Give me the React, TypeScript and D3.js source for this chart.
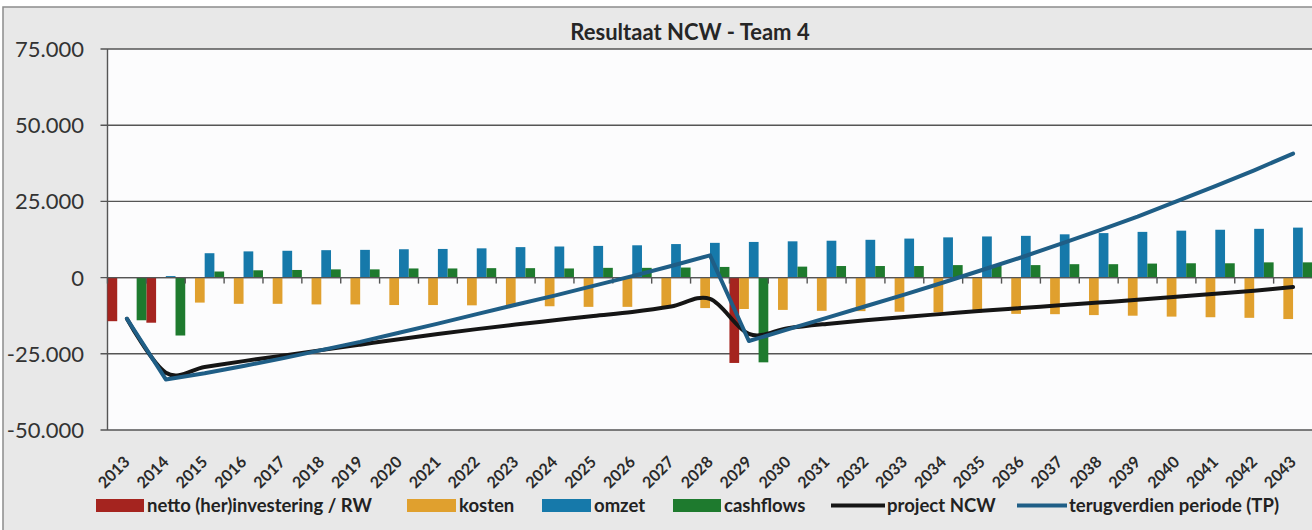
import * as d3 from "d3";

const years = [
  "2013", "2014", "2015", "2016", "2017", "2018", "2019", "2020", "2021", "2022", "2023",
  "2024", "2025", "2026", "2027", "2028", "2029", "2030", "2031", "2032", "2033", "2034",
  "2035", "2036", "2037", "2038", "2039", "2040", "2041", "2042", "2043",
];

// bar series
const netto = [
  -14300, -14800, 0, 0, 0, 0, 0, 0, 0, 0, 0, 0, 0, 0, 0, 0,
  -28000, 0, 0, 0, 0, 0, 0, 0, 0, 0, 0, 0, 0, 0, 0,
];
const kosten = [
  0, 0, -8200, -8600, -8600, -8800, -8800, -9000, -9000, -9100, -9100, -9400, -9600, -9600,
  -9700, -10000, -10300, -10600, -10900, -11000, -11200, -11400, -11500, -11900, -12000,
  -12300, -12500, -12800, -13000, -13200, -13600,
];
const omzet = [
  0, 500, 8000, 8600, 8800, 9000, 9100, 9300, 9400, 9600, 10000, 10200, 10400, 10600, 11000,
  11400, 11700, 11900, 12100, 12400, 12800, 13200, 13500, 13700, 14200, 14600, 15000, 15400,
  15700, 16000, 16400,
];
const cashflows = [
  -14000, -19000, 2000, 2400, 2500, 2700, 2700, 3000, 3000, 3100, 3100, 3000, 3200, 3200, 3300,
  3500, -27800, 3600, 3800, 3800, 3800, 4100, 4100, 4100, 4400, 4400, 4600, 4700, 4700, 5000,
  5000,
];

// line series
const projectNCW = [
  -13500, -31200, -29300, -27400, -25600, -23800, -22000, -20200, -18500, -16900, -15400,
  -14000, -12600, -11300, -9500, -7000, -18500, -16600, -15200, -14000, -12900, -11900,
  -10900, -10000, -9100, -8200, -7300, -6300, -5300, -4300, -3100,
];
const terugverdien = [
  -13500, -33400, -31400, -29000, -26500, -23800, -21100, -18100, -15100, -12000, -8900,
  -5900, -2700, 500, 3800, 7300, -20800, -17000, -13200, -9400, -5600, -1600, 2500, 6600,
  11000, 15400, 20000, 25000, 30000, 35200, 40700,
];

const yTicks = [75000, 50000, 25000, 0, -25000, -50000];

const barSeries = [
  { name: "netto (her)investering / RW", values: netto, color: "#a5241f" },
  { name: "kosten", values: kosten, color: "#e0a02e" },
  { name: "omzet", values: omzet, color: "#1679aa" },
  { name: "cashflows", values: cashflows, color: "#1e7a2e" },
];
const lineSeries = [
  { name: "project NCW", values: projectNCW, color: "#151515", smooth: true },
  { name: "terugverdien periode (TP)", values: terugverdien, color: "#1f5e86", smooth: false },
];

const W = 1312;
const H = 530;
const plot = { left: 107.5, right: 1312.5, top: 49, bottom: 430 };
const font = "Lato, 'Open Sans', sans-serif";

const nl = d3.formatLocale({
  decimal: ",",
  thousands: ".",
  grouping: [3],
  currency: ["€", ""],
  minus: "-",
});
const fmt = nl.format(",d");

export default function App() {
  const x = d3.scaleBand<string>().domain(years).range([plot.left, plot.right]).padding(0);
  const xs = d3
    .scaleBand<string>()
    .domain(barSeries.map((s) => s.name))
    .range([0, x.bandwidth()])
    .padding(0);
  const y = d3.scaleLinear().domain([-50000, 75000]).range([plot.bottom, plot.top]);
  const cx = (i: number) => (x(years[i]) as number) + x.bandwidth() / 2;

  const lineFor = (smooth: boolean) =>
    d3
      .line<number>()
      .x((_, i) => cx(i))
      .y((v) => y(v))
      .curve(smooth ? d3.curveCardinal.tension(0) : d3.curveLinear);

  const legendItems = [
    { name: barSeries[0].name, color: barSeries[0].color, kind: "bar", sx: 96, tx: 147 },
    { name: barSeries[1].name, color: barSeries[1].color, kind: "bar", sx: 407, tx: 459 },
    { name: barSeries[2].name, color: barSeries[2].color, kind: "bar", sx: 542, tx: 594 },
    { name: barSeries[3].name, color: barSeries[3].color, kind: "bar", sx: 673, tx: 724 },
    { name: lineSeries[0].name, color: lineSeries[0].color, kind: "line", sx: 831, tx: 887 },
    { name: lineSeries[1].name, color: lineSeries[1].color, kind: "line", sx: 1017, tx: 1069 },
  ];

  return (
    <svg
      width={W}
      height={H}
      style={{ position: "absolute", left: 0, top: 0, fontFamily: font }}
    >
      <rect x={0} y={0} width={W} height={H} fill="#ffffff" />
      <rect x={3} y={7} width={W + 20} height={H + 20} fill="#e8e8e8" stroke="#8c8c8c" strokeWidth={1.5} />
      <rect
        x={plot.left}
        y={plot.top}
        width={plot.right - plot.left}
        height={plot.bottom - plot.top}
        fill="#fcfcfd"
      />

      <text x={690} y={40} textAnchor="middle" fontSize={22} fontWeight="bold" fill="#262626">
        Resultaat NCW - Team 4
      </text>

      {/* y gridlines + labels */}
      {yTicks.map((t) => (
        <g key={t}>
          <line x1={plot.left - 7} x2={plot.right} y1={y(t)} y2={y(t)} stroke="#555" strokeWidth={1.4} />
          <text
            x={84}
            y={y(t)}
            dy="0.36em"
            textAnchor="end"
            fontSize={22}
            fill="#333"
          >
            {fmt(t)}
          </text>
        </g>
      ))}
      <line x1={plot.left} x2={plot.left} y1={plot.top} y2={plot.bottom} stroke="#555" strokeWidth={1.4} />

      {/* bars */}
      {barSeries.map((s) => (
        <g key={s.name} fill={s.color}>
          {s.values.map((v, i) =>
            v === 0 ? null : (
              <rect
                key={i}
                x={(x(years[i]) as number) + (xs(s.name) as number)}
                width={xs.bandwidth()}
                y={y(Math.max(0, v))}
                height={Math.abs(y(v) - y(0))}
              />
            )
          )}
        </g>
      ))}

      {/* category axis at zero */}
      <line x1={plot.left} x2={plot.right} y1={y(0)} y2={y(0)} stroke="#555" strokeWidth={1.4} />
      {years.map((yr) => (
        <line
          key={yr}
          x1={x(yr) as number}
          x2={x(yr) as number}
          y1={y(0)}
          y2={y(0) + 6}
          stroke="#555"
          strokeWidth={1.4}
        />
      ))}

      {/* lines */}
      {lineSeries.map((s) => (
        <path
          key={s.name}
          d={lineFor(s.smooth)(s.values) || ""}
          fill="none"
          stroke={s.color}
          strokeWidth={4}
          strokeLinejoin="round"
          strokeLinecap="round"
        />
      ))}

      {/* x labels */}
      {years.map((yr, i) => (
        <text
          key={yr}
          transform={`translate(${cx(i) + 4},${463}) rotate(-45)`}
          textAnchor="end"
          fontSize={16}
          fontWeight="bold"
          fill="#2a2a2a"
        >
          {yr}
        </text>
      ))}

      {/* legend */}
      {legendItems.map((it) => (
        <g key={it.name}>
          {it.kind === "bar" ? (
            <rect x={it.sx} y={499} width={it.tx - it.sx - 3} height={13} fill={it.color} />
          ) : (
            <line
              x1={it.sx}
              x2={it.tx - 2}
              y1={505.5}
              y2={505.5}
              stroke={it.color}
              strokeWidth={4}
            />
          )}
          <text x={it.tx} y={512} fontSize={18.5} fontWeight="bold" fill="#222">
            {it.name}
          </text>
        </g>
      ))}
    </svg>
  );
}
